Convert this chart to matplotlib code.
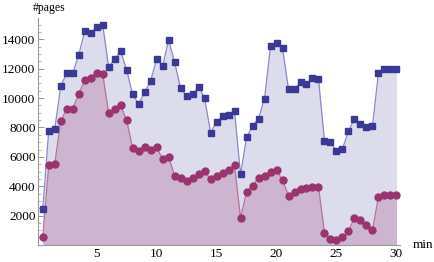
import numpy as np
import matplotlib
matplotlib.use("Agg")
import matplotlib.pyplot as plt
from matplotlib.ticker import MultipleLocator, FixedLocator

plt.rcParams['font.family'] = ['Liberation Serif', 'DejaVu Serif']

# time in minutes, one sample every half minute
minutes = np.arange(1, 61) * 0.5

# total pages (blue squares)
pages_total = [2430, 7755, 7870, 10806, 11693, 11693, 12942, 14539, 14444, 14812,
               14990, 12123, 12649, 13195, 11898, 10260, 9577, 10417, 11167, 12649,
               12191, 13945, 12444, 10669, 10143, 10260, 10785, 10007, 7645, 8396,
               8758, 8826, 9120, 4799, 7324, 8123, 8601, 9966, 13536, 13741,
               13399, 10601, 10601, 11099, 10942, 11352, 11304, 7099, 6983, 6416,
               6553, 7734, 8601, 8212, 8007, 8096, 11693, 11966, 11966, 11966]

# second series (red circles)
pages_other = [519, 5413, 5529, 8417, 9283, 9283, 10260, 11215, 11372, 11693,
               11645, 8983, 9283, 9509, 8485, 6594, 6369, 6662, 6485, 6642,
               5843, 6007, 4710, 4594, 4369, 4546, 4846, 5051, 4478, 4730,
               4887, 5092, 5413, 1843, 3618, 4048, 4573, 4730, 4935, 5092,
               4410, 3365, 3590, 3795, 3863, 3959, 3959, 840, 430, 341,
               519, 956, 1843, 1727, 1365, 997, 3276, 3386, 3386, 3386]

ytick_vals = [2000, 4000, 6000, 8000, 10000, 12000, 14000]
xtick_vals = [5, 10, 15, 20, 25, 30]

fig = plt.figure(figsize=(4.34, 2.62), dpi=100)
ax = fig.add_axes([0.0882, 0.065, 0.8335, 0.866])

blue = '#3a3a96'
red = '#9a346e'

ax.fill_between(minutes, 0, pages_total, color='#dcdced', lw=0, zorder=1)
ax.fill_between(minutes, 0, pages_other, color='#cdb5cf', lw=0, zorder=2)
ax.plot(minutes, pages_total, color='#8a8ac6', lw=0.9, zorder=3)
ax.plot(minutes, pages_other, color='#b8739c', lw=0.9, zorder=3)
ax.plot(minutes, pages_total, 's', color=blue, ms=4.2, mec=blue, zorder=4)
ax.plot(minutes, pages_other, 'o', color=red, ms=5.0, mec=red, zorder=4)

ax.set_xlim(0.13, 30.3)
ax.set_ylim(0, 15450)

for s in ['top', 'right']:
    ax.spines[s].set_visible(False)
for s in ['left', 'bottom']:
    ax.spines[s].set_color('#999999')
    ax.spines[s].set_linewidth(0.8)

ax.xaxis.set_major_locator(FixedLocator(xtick_vals))
ax.xaxis.set_minor_locator(MultipleLocator(1))
ax.yaxis.set_major_locator(FixedLocator(ytick_vals))
ax.yaxis.set_minor_locator(MultipleLocator(500))

ax.tick_params(which='both', direction='in', color='#999999', labelsize=9.5, pad=2)
ax.tick_params(which='major', length=4, width=0.7)
ax.tick_params(which='minor', length=2, width=0.5)

fig.text(33 / 434, 1 - 11 / 262, '#pages', fontsize=8.5, ha='left', va='baseline')
ax.text(1.035, 0.0, 'min', transform=ax.transAxes, fontsize=9.5,
        ha='left', va='center')

fig.savefig('out.png', dpi=100)
